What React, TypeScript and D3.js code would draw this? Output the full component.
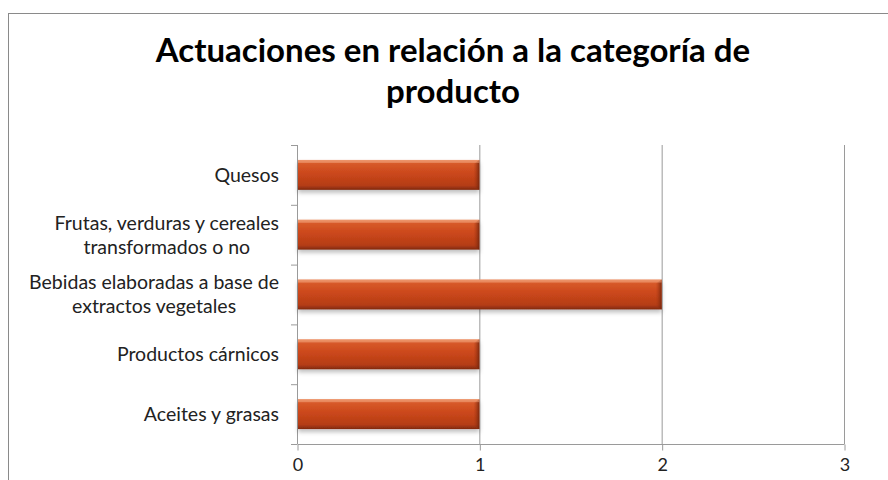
import { useEffect, useRef } from "react";
import * as d3 from "d3";

// categories from top to bottom, each split into its display lines
const categories = [
  ["Quesos"],
  ["Frutas, verduras y cereales", "transformados o no"],
  ["Bebidas elaboradas a base de", "extractos vegetales"],
  ["Productos cárnicos"],
  ["Aceites y grasas"],
];
const values = [1, 1, 2, 1, 1];
const xTicks = [0, 1, 2, 3];
const titleLines = ["Actuaciones en relación a la categoría de", "producto"];

export default function App() {
  const svgRef = useRef<SVGSVGElement>(null);

  useEffect(() => {
    if (!svgRef.current) return;
    const svg = d3.select(svgRef.current);
    svg.selectAll("*").remove();

    const width = 888;
    const height = 480;
    const margin = { top: 145, right: 44, bottom: 36, left: 297 };
    const innerW = width - margin.left - margin.right;
    const innerH = height - margin.top - margin.bottom;
    const font = "Lato, 'Open Sans', sans-serif";

    svg.attr("width", width).attr("height", height);

    // defs: bar gradient + shadow
    const defs = svg.append("defs");
    const grad = defs
      .append("linearGradient")
      .attr("id", "barGrad")
      .attr("x1", "0")
      .attr("y1", "0")
      .attr("x2", "0")
      .attr("y2", "1");
    grad.append("stop").attr("offset", "0%").attr("stop-color", "#ea8a5c");
    grad.append("stop").attr("offset", "12%").attr("stop-color", "#d75a2a");
    grad.append("stop").attr("offset", "45%").attr("stop-color", "#cb471b");
    grad.append("stop").attr("offset", "85%").attr("stop-color", "#b53d16");
    grad.append("stop").attr("offset", "100%").attr("stop-color", "#80290f");

    const endGrad = defs
      .append("linearGradient")
      .attr("id", "endGrad")
      .attr("x1", "0")
      .attr("y1", "0")
      .attr("x2", "1")
      .attr("y2", "0");
    endGrad.append("stop").attr("offset", "0%").attr("stop-color", "#a63612").attr("stop-opacity", 0);
    endGrad.append("stop").attr("offset", "100%").attr("stop-color", "#6e230b").attr("stop-opacity", 0.85);

    const filter = defs
      .append("filter")
      .attr("id", "shadow")
      .attr("x", "-5%")
      .attr("y", "-20%")
      .attr("width", "110%")
      .attr("height", "160%");
    filter
      .append("feDropShadow")
      .attr("dx", 0)
      .attr("dy", 3)
      .attr("stdDeviation", 2)
      .attr("flood-color", "#000")
      .attr("flood-opacity", 0.25);

    // chart border
    svg
      .append("rect")
      .attr("x", 8.5)
      .attr("y", 13.5)
      .attr("width", 900)
      .attr("height", 500)
      .attr("fill", "#fff")
      .attr("stroke", "#8a8a8a")
      .attr("stroke-width", 1);

    // title
    const title = svg
      .append("text")
      .attr("text-anchor", "middle")
      .attr("font-family", font)
      .attr("font-weight", "bold")
      .attr("font-size", 33)
      .attr("fill", "#000");
    titleLines.forEach((t, i) => {
      title
        .append("tspan")
        .attr("x", 453)
        .attr("y", 62 + i * 41)
        .text(t);
    });

    const g = svg
      .append("g")
      .attr("transform", `translate(${margin.left},${margin.top})`);

    const x = d3.scaleLinear().domain([0, 3]).range([0, innerW]);
    const y = d3
      .scaleBand<number>()
      .domain(d3.range(categories.length))
      .range([0, innerH])
      .paddingInner(0.5)
      .paddingOuter(0.25);
    const band = d3
      .scaleBand<number>()
      .domain(d3.range(categories.length))
      .range([0, innerH]);

    // vertical gridlines
    g.append("g")
      .selectAll("line")
      .data(xTicks.slice(1))
      .join("line")
      .attr("x1", (d) => x(d) + 0.5)
      .attr("x2", (d) => x(d) + 0.5)
      .attr("y1", 0)
      .attr("y2", innerH)
      .attr("stroke", "#9a9a9a");

    // bottom axis
    const xAxis = g
      .append("g")
      .attr("transform", `translate(0.5,${innerH + 0.5})`)
      .call(d3.axisBottom(x).tickValues(xTicks).tickSize(6).tickPadding(8).tickFormat(d3.format("d")));
    xAxis.select(".domain").attr("stroke", "#9a9a9a").attr("d", `M0,0H${innerW}`);
    xAxis.selectAll(".tick line").attr("stroke", "#9a9a9a");
    xAxis
      .selectAll("text")
      .attr("fill", "#222")
      .attr("font-family", font)
      .attr("font-size", 18);

    // left axis line + ticks at band edges
    g.append("line")
      .attr("x1", 0.5)
      .attr("x2", 0.5)
      .attr("y1", 0)
      .attr("y2", innerH)
      .attr("stroke", "#9a9a9a");
    g.append("g")
      .selectAll("line")
      .data(d3.range(categories.length + 1))
      .join("line")
      .attr("x1", -6)
      .attr("x2", 0)
      .attr("y1", (i) => (i < categories.length ? band(i)! : innerH) + 0.5)
      .attr("y2", (i) => (i < categories.length ? band(i)! : innerH) + 0.5)
      .attr("stroke", "#9a9a9a");

    // bars
    const bars = g.append("g");
    values.forEach((v, i) => {
      const bx = 1;
      const bw = x(v) - 1;
      const by = y(i)!;
      const bh = y.bandwidth();
      bars
        .append("rect")
        .attr("x", bx)
        .attr("y", by)
        .attr("width", bw)
        .attr("height", bh)
        .attr("fill", "url(#barGrad)")
        .attr("filter", "url(#shadow)");
      // bevelled end
      bars
        .append("path")
        .attr(
          "d",
          `M${bx + bw - 6},${by + 4}L${bx + bw},${by}L${bx + bw},${by + bh}L${bx + bw - 6},${by + bh - 4}Z`
        )
        .attr("fill", "url(#endGrad)");
      bars
        .append("rect")
        .attr("x", bx)
        .attr("y", by)
        .attr("width", bw)
        .attr("height", 3)
        .attr("fill", "#f0a07a")
        .attr("opacity", 0.55);
    });

    // category labels: block right-aligned, lines centred inside it
    const labels = g.append("g");
    const labelRight = -18;
    const lineH = 24;
    categories.forEach((lines, i) => {
      const cy = band(i)! + band.bandwidth() / 2;
      const t = labels
        .append("text")
        .attr("font-family", font)
        .attr("font-size", 19.5)
        .attr("fill", "#222");
      const spans = lines.map((l, k) =>
        t
          .append("tspan")
          .attr("y", cy + (k - (lines.length - 1) / 2) * lineH)
          .attr("dy", "0.35em")
          .text(l)
      );
      const widths = spans.map((s) => (s.node() as SVGTSpanElement).getComputedTextLength());
      const maxW = d3.max(widths) ?? 0;
      const cx = labelRight - maxW / 2;
      spans.forEach((s) => s.attr("x", cx).attr("text-anchor", "middle"));
    });
  }, []);

  return (
    <svg
      ref={svgRef}
      style={{ position: "absolute", left: 0, top: 0, display: "block", background: "#fff" }}
    />
  );
}
